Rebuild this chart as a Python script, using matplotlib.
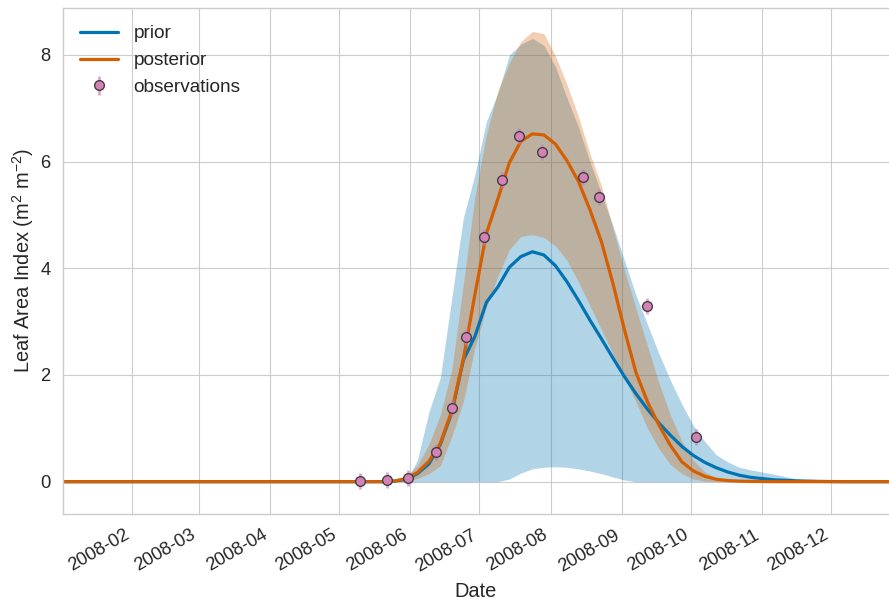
import matplotlib.pyplot as plt
import matplotlib.dates as mdates
import pandas as pd

plt.style.use("seaborn-v0_8-whitegrid")
plt.rcParams["font.family"] = ["Liberation Sans", "DejaVu Sans"]
plt.rcParams["mathtext.fontset"] = "custom"
plt.rcParams["mathtext.rm"] = "Liberation Sans"

doy = [1, 130, 140, 145, 150, 155, 160, 165, 170, 175, 180, 185, 190, 195,
       200, 205, 210, 215, 220, 225, 230, 235, 240, 245, 250, 255, 260, 265,
       270, 275, 280, 285, 290, 295, 300, 310, 320, 330, 340, 350, 360]

prior_mean = [0, 0, 0, 0.01, 0.04, 0.15, 0.33, 0.7, 1.3, 2.28, 2.72, 3.36, 3.65, 4.02,
              4.22, 4.31, 4.25, 4.05, 3.75, 3.4, 3.03, 2.68, 2.32, 1.97, 1.65, 1.36, 1.1, 0.87,
              0.66, 0.49, 0.36, 0.26, 0.18, 0.12, 0.08, 0.035, 0.015, 0.005, 0, 0, 0]
prior_hi = [0, 0, 0, 0, 0.0, 0.4, 1.3, 1.95, 3.45, 4.95, 5.75, 6.75, 7.28, 8.0,
            8.2, 8.31, 8.18, 7.78, 7.2, 6.65, 6.0, 5.4, 4.8, 4.15, 3.5, 2.95, 2.4, 1.9,
            1.45, 1.05, 0.75, 0.5, 0.37, 0.27, 0.22, 0.14, 0.05, 0.02, 0.005, 0, 0]
prior_lo = [0, 0, 0, 0, 0, 0, 0, 0, 0, 0, 0, 0, 0, 0.05,
            0.16, 0.24, 0.27, 0.28, 0.27, 0.24, 0.2, 0.15, 0.09, 0.03, 0, 0, 0, 0,
            0, 0, 0, 0, 0, 0, 0, 0, 0, 0, 0, 0, 0]

post_mean = [0, 0, 0, 0.01, 0.06, 0.17, 0.38, 0.72, 1.33, 2.3, 3.5, 4.65, 5.3, 5.98,
             6.38, 6.52, 6.5, 6.33, 6.02, 5.63, 5.1, 4.5, 3.72, 2.85, 2.05, 1.5, 1.06, 0.68,
             0.37, 0.2, 0.1, 0.045, 0.02, 0.01, 0.005, 0, 0, 0, 0, 0, 0]
post_hi = [0, 0, 0, 0.02, 0.1, 0.3, 0.7, 1.25, 2.1, 3.7, 5.34, 6.5, 7.33, 7.85,
           8.25, 8.44, 8.4, 7.98, 7.45, 6.85, 6.15, 5.55, 4.75, 3.97, 3.25, 2.55, 1.85, 1.25,
           0.75, 0.4, 0.18, 0.07, 0.03, 0.015, 0.01, 0, 0, 0, 0, 0, 0]
post_lo = [0, 0, 0, 0, 0, 0.06, 0.15, 0.3, 0.85, 1.5, 2.5, 3.27, 3.85, 4.35,
           4.6, 4.63, 4.58, 4.42, 4.15, 3.75, 3.3, 2.85, 2.4, 1.95, 1.5, 1.0, 0.62, 0.32,
           0.15, 0.05, 0.01, 0, 0, 0, 0, 0, 0, 0, 0, 0, 0]

obs_dates = ["2008-05-10", "2008-05-22", "2008-05-31", "2008-06-12", "2008-06-19",
             "2008-06-25", "2008-07-03", "2008-07-11", "2008-07-18", "2008-07-28",
             "2008-08-15", "2008-08-22", "2008-09-12", "2008-10-03"]
obs_lai = [0.01, 0.04, 0.07, 0.55, 1.38, 2.71, 4.59, 5.66, 6.48, 6.18, 5.71, 5.33, 3.30, 0.83]
obs_err = [0.15] * len(obs_lai)

blue = "#0173B2"
orange = "#D55E00"
pink = "#CC78BC"

dates = pd.Timestamp("2008-01-01") + pd.to_timedelta(doy, unit="D")
obs_t = pd.to_datetime(obs_dates)

fig = plt.figure(figsize=(8.89, 6.03), dpi=100)
ax = fig.add_axes([63 / 889, 1 - 514 / 603, 1 - 63 / 889, (514 - 8) / 603])

ax.fill_between(dates, prior_lo, prior_hi, color=blue, alpha=0.3, lw=0)
ax.fill_between(dates, post_lo, post_hi, color=orange, alpha=0.3, lw=0)
ax.plot(dates, prior_mean, color=blue, lw=2.3, label="prior")
ax.plot(dates, post_mean, color=orange, lw=2.3, label="posterior")
ax.errorbar(obs_t, obs_lai, yerr=obs_err, fmt="o", ms=7, mfc=(0.84, 0.5, 0.72), mec="0.25",
            mew=1, ecolor=(0.8, 0.47, 0.74, 0.65), elinewidth=2, label="observations", zorder=4)

ax.set_xlim(pd.Timestamp("2008-01-02"), pd.Timestamp("2008-12-26"))
ax.set_ylim(-0.606, 8.88)
ax.set_yticks([0, 2, 4, 6, 8])
ax.xaxis.set_major_locator(mdates.MonthLocator(bymonth=range(2, 13)))
ax.xaxis.set_major_formatter(mdates.DateFormatter("%Y-%m"))
for lab in ax.get_xticklabels():
    lab.set_rotation(30)
    lab.set_ha("right")
ax.tick_params(labelsize=13.2, colors="0.15", pad=9)
ax.spines["right"].set_visible(False)

ax.set_xlabel("Date", fontsize=14.4, color="0.15", labelpad=5)
ax.set_ylabel("Leaf Area Index (m$^2$ m$^{-2}$)", fontsize=14.4, color="0.15", labelpad=3)
ax.legend(loc="upper left", frameon=False, fontsize=13.7)

fig.savefig("out.png", dpi=100)
